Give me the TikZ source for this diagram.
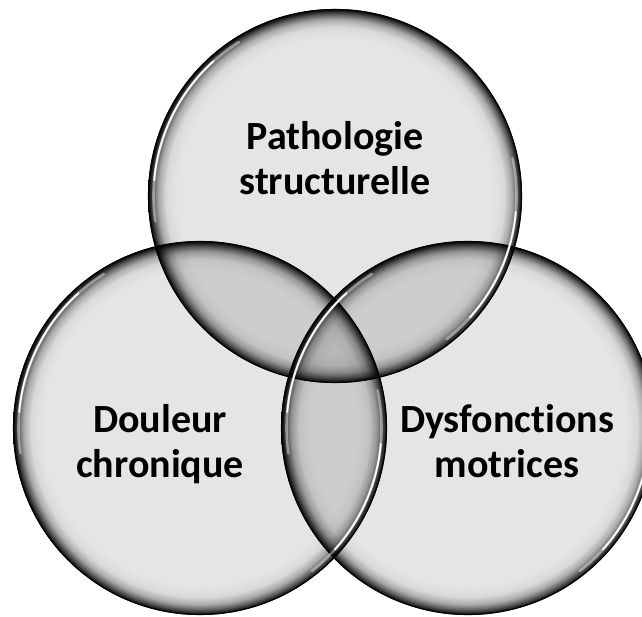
\documentclass[tikz,border=0pt]{standalone}
\usepackage{fontspec}
\setmainfont{Carlito}[Ligatures={NoCommon,NoContextual}]
\definecolor{gA}{rgb}{0.90,0.90,0.90}
\definecolor{gB}{rgb}{0.85,0.85,0.85}
\definecolor{gC}{rgb}{0.66,0.66,0.66}
\definecolor{gD}{rgb}{0.36,0.36,0.36}
\definecolor{gE}{rgb}{0.10,0.10,0.10}
\pgfdeclareradialshading{bubble}{\pgfpointorigin}{%
  color(0bp)=(gA); color(21bp)=(gA); color(22.6bp)=(gB); color(23.6bp)=(gC);
  color(24.3bp)=(gD); color(24.8bp)=(gE); color(25bp)=(black); color(50bp)=(black)}
\tikzset{
  bubbleshade/.style={shading=bubble},
  rimline/.style={draw=black, line width=1.1pt},
  glint/.style={draw=white, line cap=round},
  lbl/.style={font=\fontsize{40}{48}\selectfont\bfseries, anchor=base, inner sep=0pt}
}
\begin{document}
\begin{tikzpicture}[x=1pt,y=1pt]
\useasboundingbox (0,0) rectangle (642,616);
\fill[white] (0,0) rectangle (642,616);
\coordinate (T) at (335,420);
\coordinate (L) at (200,188);
\coordinate (R) at (468,188);
\begin{scope}[blend mode=multiply]
  \foreach \c in {T,L,R}{
    \shade[bubbleshade] (\c) circle (187);
  }
  \foreach \c in {T,L,R}{
    \path[rimline] (\c) circle (186.5);
  }
\end{scope}
% highlights
\foreach \c in {T,L,R}{
  \draw[glint, line width=2.6pt, opacity=0.4] ([shift={(\c)}]122:181.5) arc (122:188:181.5);
  \draw[glint, line width=1.8pt, opacity=0.95] ([shift={(\c)}]132:181.5) arc (132:175:181.5);
  \draw[glint, line width=2.6pt, opacity=0.4] ([shift={(\c)}]-52:181.5) arc (-52:12:181.5);
  \draw[glint, line width=1.8pt, opacity=0.95] ([shift={(\c)}]-42:181.5) arc (-42:-5:181.5);
}
\node[lbl] (t1) at (335,466) {Pathologie};
\node[lbl] (t2) at (335,421) {structurelle};
\node[lbl] (l1) at (160,183) {Douleur};
\node[lbl] (l2) at (160,139) {chronique};
\node[lbl] (r1) at (507,183) {Dysfonctions};
\node[lbl] (r2) at (507,139) {motrices};
\end{tikzpicture}
\end{document}
